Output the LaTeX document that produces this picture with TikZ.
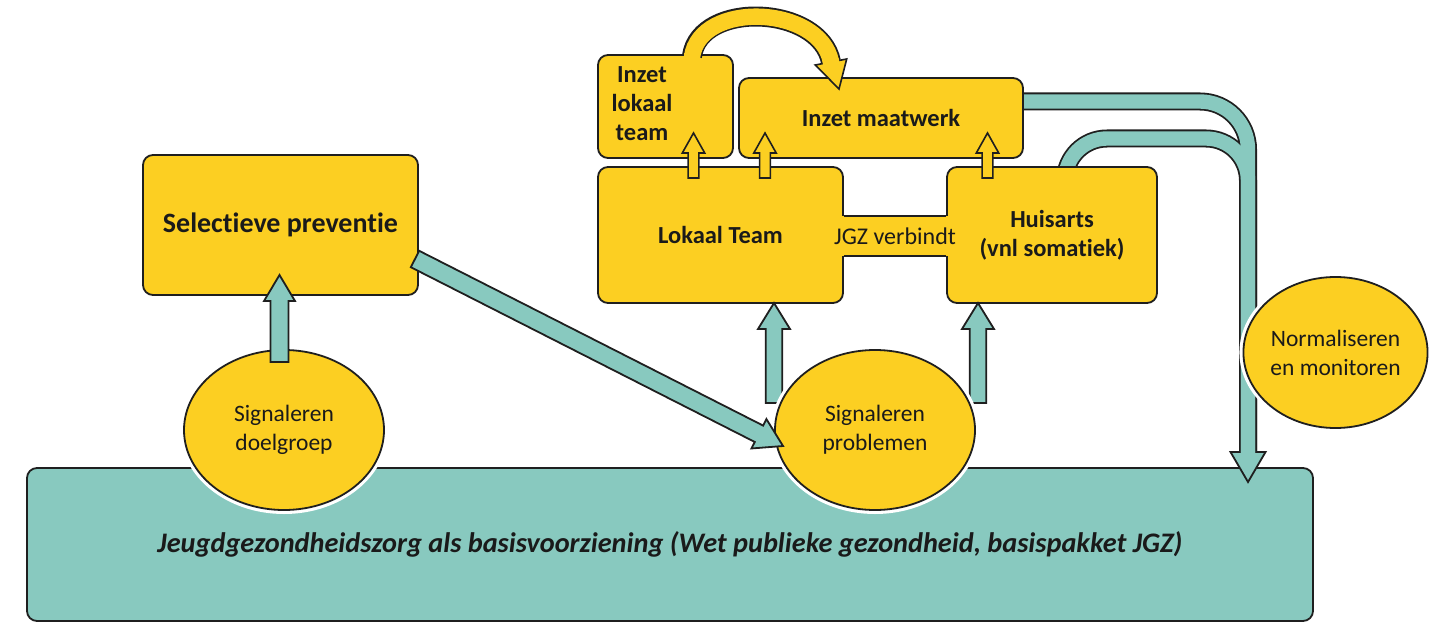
\documentclass[tikz,border=0pt]{standalone}
\usepackage{fontspec}
\setmainfont{Carlito}[Ligatures=NoCommon]
\usetikzlibrary{shapes.geometric,calc}
\definecolor{jyel}{HTML}{FCCF22}
\definecolor{jteal}{HTML}{88C9BF}
\definecolor{jline}{HTML}{1F1F1F}
\definecolor{jtext}{HTML}{1A1A1A}
\newcommand\blockarrow[6]{%
  \coordinate (ba-s) at (#1);
  \coordinate (ba-t) at (#2);
  \coordinate (ba-b) at ($(ba-t)!#5!(ba-s)$);
  \draw[#6] ($(ba-s)!#3!90:(ba-t)$) -- ($(ba-b)!#3!90:(ba-t)$) -- ($(ba-b)!#4!90:(ba-t)$)
    -- (ba-t) -- ($(ba-b)!#4!-90:(ba-t)$) -- ($(ba-b)!#3!-90:(ba-t)$) -- ($(ba-s)!#3!-90:(ba-t)$) -- cycle;
}
\tikzset{
  ybox/.style={draw=jline, fill=jyel, line width=1.8pt, rounded corners=10pt, inner sep=0pt, text=jtext},
  tbox/.style={draw=jline, fill=jteal, line width=1.8pt, rounded corners=10pt, inner sep=0pt, text=jtext},
  yell/.style={ellipse, draw=jline, fill=jyel, line width=1.8pt, inner sep=0pt, text=jtext, align=center,
    font=\fontsize{23.5}{29}\selectfont, preaction={draw=white, line width=8pt}},
  btxt/.style={font=\bfseries\fontsize{24.5}{29}\selectfont, align=center},
  rtxt/.style={font=\fontsize{24}{29}\selectfont, align=center, text=jtext},
  tarrow/.style={draw=jline, fill=jteal, line width=1.8pt, line join=miter},
  yarrow/.style={draw=jline, fill=jyel, line width=1.6pt, line join=miter},
}
\begin{document}
\begin{tikzpicture}[x=1pt, y=-1pt]
\useasboundingbox (0,0) rectangle (1439,639);
% base box
\node[tbox, minimum width=1286pt, minimum height=153pt,
  font=\bfseries\itshape\fontsize{28.3}{32}\selectfont] (jgz) at (670,544.5)
  {Jeugdgezondheidszorg als basisvoorziening (Wet publieke gezondheid, basispakket JGZ)};

% big teal return arrow (behind boxes)
\draw[jline, line width=18pt, rounded corners=48pt] (1010,101.5) -- (1248,101.5) -- (1248,452);
\draw[jline, line width=18pt, rounded corners=42pt] (1065,195) -- (1065,138.5) -- (1248,138.5) -- (1248,452);
\draw[tarrow] (1230.5,452) -- (1265.5,452) -- (1248,482) -- cycle;
\draw[jteal, line width=14.4pt, rounded corners=48pt] (1010,101.5) -- (1248,101.5) -- (1248,456);
\draw[jteal, line width=14.4pt, rounded corners=42pt] (1065,195) -- (1065,138.5) -- (1248,138.5) -- (1248,456);

% boxes
\node[ybox, minimum width=275pt, minimum height=140pt, font=\bfseries\fontsize{28}{32}\selectfont] (sel) at (280.5,225) {Selectieve preventie};
\node[ybox, minimum width=135pt, minimum height=103pt] (ilt) at (665.5,106.5) {};
\node[btxt, text=jtext] (iltt) at (642,104) {\fontsize{24.5}{28.5}\selectfont Inzet\\lokaal\\team};
\node[ybox, minimum width=284pt, minimum height=80pt, btxt] (im) at (881,118) {Inzet maatwerk};
\node[ybox, minimum width=245pt, minimum height=136pt, btxt] (lt) at (720.5,235) {Lokaal Team};
\node[ybox, minimum width=210pt, minimum height=136pt, btxt] (ha) at (1052,235) {Huisarts\\(vnl somatiek)};
% bridge between Lokaal Team and Huisarts
\fill[jyel] ($(lt.east)+(-1.5,-19)$) rectangle ($(ha.west)+(1.5,21)$);
\draw[jline, line width=1.8pt] ($(lt.east)+(0,-19)$) -- ($(ha.west)+(0,-19)$);
\draw[jline, line width=1.8pt] ($(lt.east)+(0,21)$) -- ($(ha.west)+(0,21)$);
\node[rtxt] (jgzv) at ($(lt.east)!0.5!(ha.west)+(0,1)$) {JGZ verbindt};

% curved yellow arrow from Inzet lokaal team to Inzet maatwerk
\draw[jline, line width=20pt] (692,56) .. controls (700,0) and (820,5) .. (831,62);
\draw[yarrow] (815.3,65) -- (846.7,59) -- (839,89) -- cycle;
\fill[jyel] (683.8,53.5) rectangle (700.2,59);
\draw[jyel, line width=16.4pt] (692,57) .. controls (700,0) and (820,5) .. (831,62);
\draw[jyel, line width=16.4pt] (830.5,59.5) -- (832,67);

% ellipses
\node[yell, minimum width=177pt, minimum height=151pt] (nm) at (1335.5,352.5) {Normaliseren\\en monitoren};
\node[yell, minimum width=200pt, minimum height=160pt] (sd) at (284,430) {Signaleren\\doelgroep};

% arrow doelgroep -> selectieve preventie
\blockarrow{279.5,362}{279.5,275}{9pt}{15.5pt}{26pt}{tarrow}

% arrows from signaleren problemen up
\blockarrow{774,403}{774,303}{8.2pt}{16pt}{26pt}{tarrow}
\blockarrow{978,403}{978,303}{8.2pt}{16pt}{26pt}{tarrow}
\node[yell, minimum width=200pt, minimum height=160pt] (sp) at (875,430) {Signaleren\\problemen};

% diagonal arrow selectieve preventie -> signaleren problemen
\blockarrow{415,259}{783,446}{9.2pt}{16.5pt}{27pt}{tarrow}

% small yellow arrows
\blockarrow{693.5,178}{693.5,133}{5.4pt}{11.2pt}{20pt}{yarrow}
\blockarrow{765,178}{765,133}{5.4pt}{11.2pt}{20pt}{yarrow}
\blockarrow{987.5,178}{987.5,133}{5.4pt}{11.2pt}{20pt}{yarrow}
\end{tikzpicture}
\end{document}
